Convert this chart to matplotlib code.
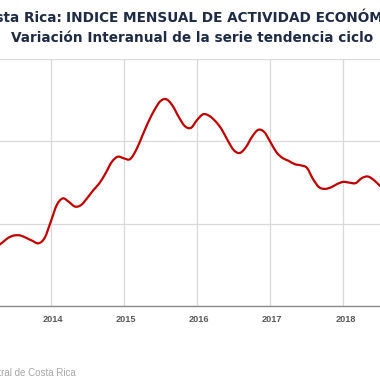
import matplotlib
matplotlib.use("Agg")
import matplotlib.pyplot as plt
import matplotlib.transforms as mtransforms
from matplotlib.path import Path
from matplotlib.patches import PathPatch
import numpy as np

# ── Data (monthly, trend-cycle y/y %) ─────────────────────────────────────────
START_YEAR = 2013
START_MONTH = 4
values = [
    1.43, 1.53, 1.65, 1.71, 1.71, 1.65, 1.58, 1.52, 1.65,           # 2013 Apr-Dec
    2.04, 2.45, 2.61, 2.52, 2.41, 2.45, 2.62, 2.81, 2.98, 3.22, 3.49, 3.62,  # 2014
    3.58, 3.56, 3.78, 4.12, 4.46, 4.75, 4.97, 5.01, 4.85, 4.58, 4.36, 4.32,  # 2015
    4.51, 4.65, 4.61, 4.48, 4.29, 4.02, 3.78, 3.71, 3.85, 4.10, 4.27, 4.22,  # 2016
    3.98, 3.73, 3.59, 3.52, 3.44, 3.41, 3.35, 3.08, 2.88, 2.84, 2.88, 2.96,  # 2017
    3.01, 2.99, 2.98, 3.10, 3.14, 3.05, 2.91,                                # 2018
]
years = [2014, 2015, 2016, 2017, 2018]
y_grid = [0, 2, 4, 6]

t = START_YEAR + (START_MONTH - 1) / 12 + np.arange(len(values)) / 12

TITLE_COLOR = "#1F2B45"
LINE_COLOR = "#C00000"
GRID_COLOR = "#D9D9D9"


def smooth_path(x, y):
    """Excel-style smoothed line: cubic Bezier segments through every point."""
    pts = np.column_stack([x, y])
    ext = np.vstack([pts[0], pts, pts[-1]])
    verts = [pts[0]]
    codes = [Path.MOVETO]
    for i in range(len(pts) - 1):
        p0, p1, p2, p3 = ext[i], ext[i + 1], ext[i + 2], ext[i + 3]
        verts += [p1 + (p2 - p0) / 6, p2 - (p3 - p1) / 6, p2]
        codes += [Path.CURVE4] * 3
    return Path(verts, codes)


# ── Plot ──────────────────────────────────────────────────────────────────────
fig = plt.figure(figsize=(3.8, 3.8), dpi=100)
ax = fig.add_axes([0.0, 0.1947, 1.0, 0.6513])

ax.add_patch(PathPatch(smooth_path(t, values), fill=False, edgecolor=LINE_COLOR,
                       lw=1.6, capstyle="round", joinstyle="round", zorder=3))

ax.set_xlim(2013.307, 2018.499)
ax.set_ylim(0, 6)
ax.set_yticks(y_grid)
ax.set_xticks(years)
ax.set_xticklabels([str(y) for y in years])
ax.tick_params(axis="y", left=False, labelleft=False)
ax.tick_params(axis="x", length=0, pad=6.5, labelsize=6.6, labelcolor="#595959")
for lbl in ax.get_xticklabels():
    lbl.set_fontweight("bold")
    lbl.set_fontfamily("Liberation Sans")
    lbl.set_transform(lbl.get_transform()
                      + mtransforms.ScaledTranslation(2 / 100, 0, fig.dpi_scale_trans))
ax.grid(True, color=GRID_COLOR, lw=0.9)
ax.set_axisbelow(True)
for side in ["left", "right", "top"]:
    ax.spines[side].set_visible(False)
ax.spines["bottom"].set_color("#8C8C8C")
ax.spines["bottom"].set_linewidth(1.0)

# ── Titles (cropped on the original) ─────────────────────────────────────────
fig.text(62 / 380, 1 - 21.5 / 380, "Costa Rica:", ha="right", va="baseline",
         fontsize=9.8, fontweight="bold", color=TITLE_COLOR, family="DejaVu Sans")
fig.text(66 / 380, 1 - 21.5 / 380, "INDICE MENSUAL DE ACTIVIDAD ECONÓMICA",
         ha="left", va="baseline", fontsize=9.8, fontweight="bold",
         color=TITLE_COLOR, family="DejaVu Sans")
fig.text(192 / 380, 1 - 42.5 / 380, "Variación Interanual de la serie tendencia ciclo",
         ha="center", va="baseline", fontsize=9.8, fontweight="bold",
         color=TITLE_COLOR, family="DejaVu Sans")

fig.text(76 / 380, 1 - 376 / 380, "Fuente: Banco Central de Costa Rica",
         ha="right", va="baseline", fontsize=7.0, color="#A6A6A6",
         family="Liberation Sans")

fig.savefig("out.png", dpi=100)
